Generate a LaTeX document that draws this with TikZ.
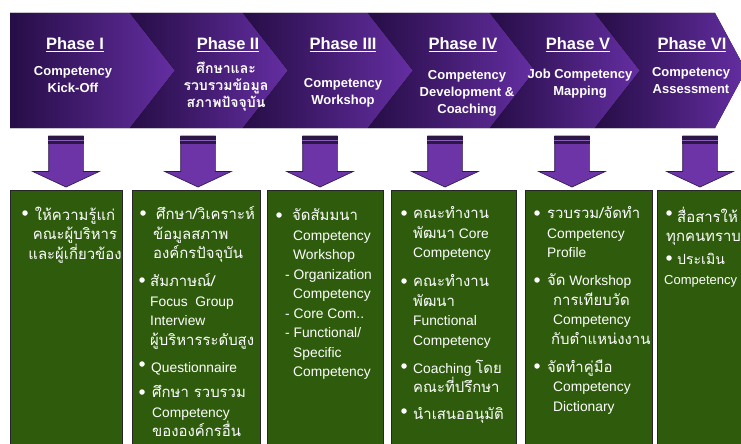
\documentclass[tikz,border=0pt]{standalone}
\usepackage{fontspec}
\setmainfont{Liberation Sans}
\newfontfamily\thaifont[Script=Thai,Scale=1.08]{Loma}
\usetikzlibrary{shapes.arrows}
\newcommand\tha[1]{{\thaifont #1}}

\definecolor{purpdark}{RGB}{38,13,70}
\definecolor{purplight}{RGB}{100,46,162}
\definecolor{arrpurple}{RGB}{108,52,166}
\definecolor{arrdark}{RGB}{44,24,70}
\definecolor{boxgreen}{RGB}{46,92,12}

\tikzset{
  chevron/.style={left color=purpdark, right color=purplight},
  phasehead/.style={text=white, anchor=base, inner sep=0pt, font=\bfseries\fontsize{16.5}{18}\selectfont},
  phasesub/.style={text=white, anchor=north, inner sep=0pt, align=center,
    font=\bfseries\fontsize{13}{17}\selectfont, execute at begin node=\rule{0pt}{12pt}},
  downarr/.style={single arrow, shape border rotate=270, fill=arrpurple, draw=arrdark,
    line width=0.6pt, minimum height=51pt, minimum width=66pt, inner sep=17pt,
    single arrow head extend=16pt, single arrow tip angle=130},
  greenbox/.style={fill=boxgreen, draw=black!85, line width=1.2pt, inner sep=0pt,
    anchor=north west, minimum height=264pt},
  itemtext/.style={text=white, anchor=north west, inner sep=0pt, align=left, yshift=-4.5pt,
    font=\fontsize{13.8}{19.5}\selectfont, execute at begin node=\rule{0pt}{15pt}},
  bulletdot/.style={circle, fill=white, inner sep=0pt, minimum size=5.5pt}
}

\begin{document}
\begin{tikzpicture}[x=1pt,y=-1pt]
\useasboundingbox (0,0) rectangle (741,444);

%Phase chevrons
\fill[chevron] (10,13) -- (130,13) -- (175,70.5) -- (130,128) -- (10,128) -- cycle;
\fill[chevron] (130,13) -- (243,13) -- (288,70.5) -- (243,128) -- (130,128) -- (175,70.5) -- cycle;
\fill[chevron] (243,13) -- (368,13) -- (413,70.5) -- (368,128) -- (243,128) -- (288,70.5) -- cycle;
\fill[chevron] (368,13) -- (490,13) -- (535,70.5) -- (490,128) -- (368,128) -- (413,70.5) -- cycle;
\fill[chevron] (490,13) -- (595,13) -- (640,70.5) -- (595,128) -- (490,128) -- (535,70.5) -- cycle;
\fill[chevron] (595,13) -- (715,13) -- (746,70.5) -- (715,128) -- (595,128) -- (640,70.5) -- cycle;

\node[phasehead] (headI) at (75,50) {\underline{Phase I}};
\node[phasehead] (headII) at (228,50) {\underline{Phase II}};
\node[phasehead] (headIII) at (343,50) {\underline{Phase III}};
\node[phasehead] (headIV) at (463,50) {\underline{Phase IV}};
\node[phasehead] (headV) at (578,50) {\underline{Phase V}};
\node[phasehead] (headVI) at (692,50) {\underline{Phase VI}};

\node[phasesub] (subI) at (73,66.5) {Competency\\Kick-Off};
\node[phasesub] (subII) at (226,61.5) {\tha{ศึกษาและ}\\\tha{รวบรวมข้อมูล}\\\tha{สภาพปัจจุบัน}};
\node[phasesub] (subIII) at (343,78.5) {Competency\\Workshop};
\node[phasesub] (subIV) at (467,70.5) {Competency\\Development \&\\Coaching};
\node[phasesub] (subV) at (580,68.5) {Job Competency\\Mapping};
\node[phasesub] (subVI) at (691,67.5) {Competency\\Assessment};

%Down arrows
\node[downarr] (arrI) at (66,157.5) {};
\node[downarr] (arrII) at (198,157.5) {};
\node[downarr] (arrIII) at (320,157.5) {};
\node[downarr] (arrIV) at (445,157.5) {};
\node[downarr] (arrV) at (572,157.5) {};
\node[downarr] (arrVI) at (700,157.5) {};
\foreach \a in {arrI,arrII,arrIII,arrIV,arrV,arrVI}{
  \fill[arrdark] (\a.before tail) rectangle ([yshift=-8pt]\a.after tail);
  \draw[arrpurple!80!white, line width=0.5pt] ([yshift=-4.5pt]\a.before tail) -- ([yshift=-4.5pt]\a.after tail);
}

%Green boxes
\node[greenbox, minimum width=112pt] (boxI) at (10,190) {};
\node[greenbox, minimum width=128pt] (boxII) at (132,190) {};
\node[greenbox, minimum width=116pt] (boxIII) at (267,190) {};
\node[greenbox, minimum width=125pt] (boxIV) at (391,190) {};
\node[greenbox, minimum width=127pt] (boxV) at (525,190) {};
\node[greenbox, minimum width=100pt] (boxVI) at (657,190) {};

%Box I
\node[bulletdot] (bI1) at (25,213) {};
\node[itemtext, anchor=north, align=center] (tI1) at (75,202) {\tha{ให้ความรู้แก่}\\\tha{คณะผู้บริหาร}\\\tha{และผู้เกี่ยวข้อง}};

%Box II
\node[bulletdot] (bII1) at (143,213) {};
\node[bulletdot] (bII2) at (142,280) {};
\node[bulletdot] (bII3) at (142,364) {};
\node[bulletdot] (bII4) at (142,392) {};
\node[itemtext] (tII1) at (153,202) {\hspace*{3pt}\tha{ศึกษา/วิเคราะห์}\\\tha{ข้อมูลสภาพ}\\\tha{องค์กรปัจจุบัน}};
\node[itemtext] (tII2) at (150,269) {\tha{สัมภาษณ์/}\\Focus\ \ Group\\Interview\\\tha{ผู้บริหารระดับสูง}};
\node[itemtext] (tII3) at (151,353) {Questionnaire};
\node[itemtext] (tII4) at (152,381) {\tha{ศึกษา รวบรวม}\\Competency\\\tha{ขององค์กรอื่น}};

%Box III
\node[bulletdot] (bIII1) at (279,215) {};
\node[itemtext] (tIII1) at (285,204) {\hspace*{7pt}\tha{จัดสัมมนา}\\\hspace*{8pt}Competency\\\hspace*{8pt}Workshop\\- Organization\\\hspace*{8pt}Competency\\- Core Com..\\- Functional/\\\hspace*{8pt}Specific\\\hspace*{8pt}Competency};

%Box IV
\node[bulletdot] (bIV1) at (404,213) {};
\node[bulletdot] (bIV2) at (404,281) {};
\node[bulletdot] (bIV3) at (404,366) {};
\node[bulletdot] (bIV4) at (404,411) {};
\node[itemtext] (tIV1) at (413,202) {\tha{คณะทำงาน}\\\tha{พัฒนา} Core\\Competency};
\node[itemtext] (tIV2) at (413,270) {\tha{คณะทำงาน}\\\tha{พัฒนา}\\Functional\\Competency};
\node[itemtext] (tIV3) at (413,355) {Coaching \tha{โดย}\\\tha{คณะที่ปรึกษา}};
\node[itemtext] (tIV4) at (413,400) {\tha{นำเสนออนุมัติ}};

%Box V
\node[bulletdot] (bV1) at (537,213) {};
\node[bulletdot] (bV2) at (537,280) {};
\node[bulletdot] (bV3) at (537,366) {};
\node[itemtext] (tV1) at (547,202) {\tha{รวบรวม/จัดทำ}\\Competency\\Profile};
\node[itemtext] (tV2) at (547,269) {\tha{จัด} Workshop\\\hspace*{6pt}\tha{การเทียบวัด}\\\hspace*{6pt}Competency\\\hspace*{4pt}\tha{กับตำแหน่งงาน}};
\node[itemtext] (tV3) at (547,355) {\tha{จัดทำคู่มือ}\\\hspace*{6pt}Competency\\\hspace*{6pt}Dictionary};

%Box VI
\node[bulletdot] (bVI1) at (669,213) {};
\node[bulletdot] (bVI2) at (669,258) {};
\node[itemtext] (tVI1) at (664,202) {\hspace*{13pt}\tha{สื่อสารให้}\\\hspace*{2pt}\tha{ทุกคนทราบ}};
\node[itemtext, font=\fontsize{13}{19.5}\selectfont] (tVI2) at (664,249) {\hspace*{13pt}\tha{ประเมิน}\\Competency};

\end{tikzpicture}
\end{document}
